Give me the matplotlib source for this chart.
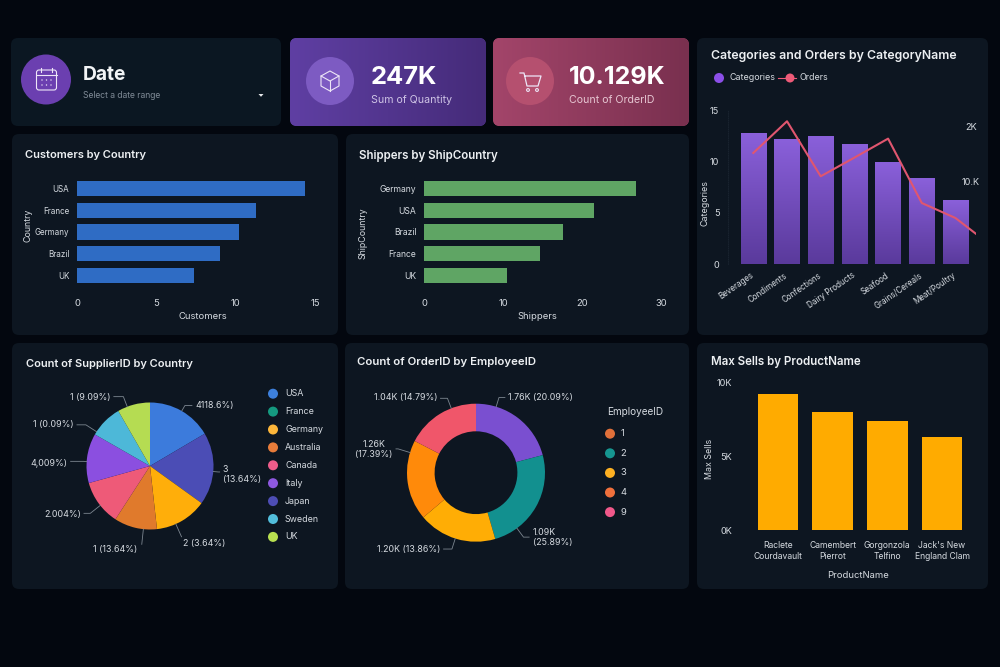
import numpy as np
import matplotlib
matplotlib.use('Agg')
import matplotlib.pyplot as plt
from matplotlib.patches import FancyBboxPatch, Circle, Polygon
from matplotlib.colors import LinearSegmentedColormap
from matplotlib.transforms import ScaledTranslation

W, H = 1000, 667

# data
cust_countries = ['USA', 'France', 'Germany', 'Brazil', 'UK']
cust_values = [14.4, 11.3, 10.2, 9.0, 7.4]
cust_ticks = [0, 5, 10, 15]

ship_countries = ['Germany', 'USA', 'Brazil', 'France', 'UK']
ship_values = [26.8, 21.5, 17.6, 14.7, 10.5]
ship_ticks = [0, 10, 20, 30]

cat_names = ['Beverages', 'Condiments', 'Confections', 'Dairy Products', 'Seafood', 'Grains/Cereals', 'Meat/Poultry']
cat_values = [12.7, 12.1, 12.4, 11.65, 9.9, 8.35, 6.2]
cat_ticks = [0, 5, 10, 15]
order_values = [1613, 2073, 1274, 1545, 1821, 886, 668, 290]
order_ticks = [1200, 2000]
order_tick_labels = ['10.K', '2K']

legend_countries = ['USA', 'France', 'Germany', 'Australia', 'Canada', 'Italy', 'Japan', 'Sweden', 'UK']
legend_colors = ['#3D80DC', '#159A80', '#FDB63A', '#E87C3A', '#EE5C8A', '#8E58E0', '#4D4DB5', '#52BEDC', '#B8E050']
supplier_values = [16.5, 18.4, 13.3, 10.9, 11.5, 12.6, 8.4, 8.3]
supplier_colors = ['#3C7BDC', '#4B4DB5', '#FFAE0A', '#E07A2C', '#EE5A78', '#8B4FE0', '#4DB8D8', '#B5DC52']
supplier_labels = ['4118.6%)', '3\n(13.64%)', '2 (3.64%)', '1 (13.64%)', '2.004%)', '4,009%)', '1 (0.09%)', '1 (9.09%)']
# text x, text y, align, leader angle (clockwise from top), leader elbow radius
supplier_label_pos = [(0.71, 0.95, 'left', 30, 1.1), (1.147, -0.13, 'left', 95, 1.08), (0.516, -1.22, 'left', 156, 1.22),
                      (-0.205, -1.32, 'right', 186, 1.24), (-1.09, -0.76, 'right', 231.6, 1.2),
                      (-1.3, 0.04, 'right', 274, 1.05), (-1.2, 0.65, 'right', 302.7, 1.2), (-0.62, 1.08, 'right', 339, 1.17)]

employee_ids = ['1', '2', '3', '4', '9']
employee_colors = ['#E0703A', '#169690', '#FDB022', '#F0703C', '#F0588A']
employee_values = [20.9, 24.6, 18.3, 18.8, 17.4]
donut_colors = ['#7A4FD0', '#12908F', '#FFAD05', '#FF8A0A', '#F0566A']
donut_labels = ['1.76K (20.09%)', '1.09K\n(25.89%)', '1.20K (13.86%)', '1.26K\n(17.39%)', '1.04K (14.79%)']
donut_label_pos = [(0.469, 1.09, 'left', 17, 1.14), (0.82, -0.94, 'left', 143.6, 1.16), (-0.52, -1.11, 'right', 197.5, 1.16),
                   (-1.21, 0.34, 'right', 287, 1.18), (-0.565, 1.09, 'right', 339, 1.155)]

product_names = ['Raclete\nCourdavault', 'Camembert\nPierrot', 'Gorgonzola\nTelfino', "Jack's New\nEngland Clam"]
product_values = [9190, 7970, 7360, 6320]
product_ticks = [0, 5000, 10000]
product_tick_labels = ['0K', '5K', '10K']

BG = '#03070F'
PANEL = '#0D1621'
TEXT = '#D5DAE0'
TITLE = '#EDF0F3'

plt.rcParams['font.family'] = ['Inter', 'DejaVu Sans']
plt.rcParams['font.size'] = 6.5

fig = plt.figure(figsize=(W / 100, H / 100), dpi=100, facecolor=BG)

# whole-figure layer in pixel coordinates for the cards
bg = fig.add_axes([0, 0, 1, 1])
bg.set_xlim(0, W)
bg.set_ylim(H, 0)
bg.axis('off')


def panel(x0, y0, x1, y1, color=PANEL, r=7):
    box = FancyBboxPatch((x0, y0), x1 - x0, y1 - y0, boxstyle=f'round,pad=0,rounding_size={r}',
                         fc=color, ec='none')
    bg.add_patch(box)
    return box


def gradient_card(x0, y0, x1, y1, c_left, c_right):
    box = panel(x0, y0, x1, y1, c_left)
    cmap = LinearSegmentedColormap.from_list('g', [c_left, c_right])
    im = bg.imshow(np.linspace(0, 1, 256).reshape(1, -1), extent=[x0, x1, y1, y0], aspect='auto', cmap=cmap, zorder=1.5)
    im.set_clip_path(box)
    bg.set_xlim(0, W)
    bg.set_ylim(H, 0)


def px_axes(x0, y0, x1, y1):
    ax = fig.add_axes([x0 / W, 1 - y1 / H, (x1 - x0) / W, (y1 - y0) / H])
    ax.set_facecolor('none')
    for s in ax.spines.values():
        s.set_visible(False)
    return ax


def set_labels(ax, rect, xlabel=None, xpos=None, ylabel=None, ypos=None):
    x0, y0, x1, y1 = rect
    if xlabel:
        ax.set_xlabel(xlabel, color=TEXT, fontsize=6.8, va='center')
        ax.xaxis.set_label_coords((xpos[0] - x0) / (x1 - x0), (y1 - xpos[1]) / (y1 - y0))
    if ylabel:
        ax.set_ylabel(ylabel, color=TEXT, fontsize=6.4, va='center')
        ax.yaxis.set_label_coords((ypos[0] - x0) / (x1 - x0), (y1 - ypos[1]) / (y1 - y0))


def title(x, y, s, size=8.3):
    bg.text(x, y, s, color=TITLE, fontsize=size, fontweight='semibold', va='center', ha='left', zorder=5)


def hbar_chart(rect, names, values, ticks, color, xlabel, xpos, ylabel, ypos, xmax, ysize=6.2):
    ax = px_axes(*rect)
    ax.barh(names, values, height=0.7, color=color)
    ax.set_xlim(0, xmax)
    ax.set_ylim(4.5, -0.5)
    ax.set_xticks(ticks)
    ax.tick_params(axis='x', length=0, pad=9, colors=TEXT, labelsize=6.8)
    ax.tick_params(axis='y', length=0, pad=5.5, colors=TEXT, labelsize=ysize)
    set_labels(ax, rect, xlabel, xpos, ylabel, ypos)
    return ax


def pie_with_leaders(center, R, values, colors, labels, label_pos, width=None):
    lim = 1.25
    cx, cy = center
    ax = px_axes(cx - R * lim, cy - R * lim, cx + R * lim, cy + R * lim)
    props = {'width': width} if width else {}
    ax.pie(values, colors=colors, startangle=90, counterclock=False, radius=1, wedgeprops=props)
    ax.set_xlim(-lim, lim)
    ax.set_ylim(-lim, lim)
    for lab, (tx, ty, ha, ang, elbow) in zip(labels, label_pos):
        a = np.deg2rad(ang)
        ex, ey = np.sin(a), np.cos(a)
        xs, ys = [ex, elbow * ex], [ey, elbow * ey]
        if ty > -1.2:
            # labels under the pie get no horizontal run
            gap = 0.05 if ha == 'left' else -0.05
            xs.append(tx - gap)
            ys.append(elbow * ey)
        ax.plot(xs, ys, color='#7C8690', lw=0.6, clip_on=False)
        ax.text(tx, ty, lab, color=TEXT, fontsize=6.4, ha=ha, va='center', multialignment='left' if ha == 'left' else 'center')
    return ax


# cards
panel(11, 38, 281, 126, '#0B1722')
gradient_card(290, 38, 486, 126, '#5F3FA3', '#452B79')
gradient_card(493, 38, 689, 126, '#A3456A', '#79304F')
panel(697, 38, 988, 335)
panel(12, 134, 338, 335)
panel(346, 134, 689, 335)
panel(12, 343, 338, 589)
panel(345, 343, 689, 589)
panel(697, 343, 988, 589)

# filter card and KPI cards
bg.add_patch(Circle((46, 79.5), 25, fc='#6B3FB0', ec='none', zorder=3))
bg.add_patch(Circle((330, 81), 24, fc='#7D5BC2', ec='none', zorder=3))
bg.add_patch(Circle((530, 81), 24, fc='#B5506F', ec='none', zorder=3))

# calendar icon
ICON = '#EDE6F7'
bg.add_patch(FancyBboxPatch((36.5, 70), 20, 20, boxstyle='round,pad=0,rounding_size=2.5', fc='none', ec=ICON, lw=0.8, zorder=4))
bg.plot([36.5, 56.5], [75, 75], color=ICON, lw=0.8, zorder=4)
for x in [41, 52]:
    bg.plot([x, x], [68, 72], color=ICON, lw=0.8, zorder=4)
for x in [42, 46.5, 51]:
    for y in [80, 85]:
        bg.add_patch(Circle((x, y), 0.7, fc=ICON, ec='none', zorder=4))
# box icon
bg.add_patch(Polygon([(330, 71), (339, 76), (339, 86), (330, 91), (321, 86), (321, 76)], closed=True, fc='none', ec=ICON, lw=0.8, zorder=4))
bg.plot([321, 330, 339], [76, 81, 76], color=ICON, lw=0.8, zorder=4)
bg.plot([330, 330], [81, 91], color=ICON, lw=0.8, zorder=4)
# cart icon
bg.plot([520, 524, 527, 538, 541, 525], [73, 73, 86, 86, 76, 76], color=ICON, lw=0.9, zorder=4)
bg.add_patch(Circle((528, 90), 1.4, fc='none', ec=ICON, lw=0.8, zorder=4))
bg.add_patch(Circle((537, 90), 1.4, fc='none', ec=ICON, lw=0.8, zorder=4))

bg.text(83, 75, 'Date', color='#F2F4F6', fontsize=13.8, fontweight='bold', va='center', zorder=5)
bg.text(83, 95, 'Select a date range', color='#7F8A96', fontsize=6.2, va='center', zorder=5)
bg.add_patch(Polygon([(258.5, 94), (263.5, 94), (261, 96.8)], closed=True, fc='#E6E8EB', ec='none', zorder=5))
bg.text(371, 77, '247K', color='white', fontsize=18.4, fontweight='bold', va='center', zorder=5)
bg.text(371, 100, 'Sum of Quantity', color='#CFC4E6', fontsize=7.6, va='center', zorder=5)
bg.text(569, 77, '10.129K', color='white', fontsize=18, fontweight='bold', va='center', zorder=5)
bg.text(569, 100, 'Count of OrderID', color='#E6C6D2', fontsize=7.6, va='center', zorder=5)

# customers / shippers
title(25, 155.5, 'Customers by Country', 8.0)
hbar_chart((77, 177.6, 315, 286.4), cust_countries, cust_values, cust_ticks, '#2F6CC4',
           'Customers', (202.7, 317), 'Country', (28, 225), 15, ysize=5.8)
title(359, 155.5, 'Shippers by ShipCountry')
hbar_chart((424, 177.6, 661, 286.4), ship_countries, ship_values, ship_ticks, '#5FA564',
           'Shippers', (537, 317), 'ShipCountry', (363, 233), 30)

# categories and orders
title(711, 56, 'Categories and Orders by CategoryName', 8.85)
bg.add_patch(Circle((719, 78), 5, fc='#8B4FE8', ec='none', zorder=4))
bg.text(729, 78, 'Categories', color=TEXT, fontsize=6.4, va='center', zorder=5)
bg.plot([778, 796], [78, 78], color='#EE5A78', lw=0.8, zorder=4)
bg.add_patch(Circle((790, 78), 4.5, fc='#EE5A78', ec='none', zorder=4))
bg.text(800, 78, 'Orders', color=TEXT, fontsize=6.4, va='center', zorder=5)

rect = (727.7, 110, 975.7, 264)
ax = px_axes(*rect)
x = np.arange(len(cat_names))
bars = ax.bar(x, cat_values, width=0.76, color='#6F49BE')
cmap = LinearSegmentedColormap.from_list('bar', ['#5A3A9C', '#8A60DA'])
for b in bars:
    ax.imshow(np.linspace(1, 0, 128).reshape(-1, 1), extent=[b.get_x(), b.get_x() + b.get_width(), 0, b.get_height()],
              aspect='auto', cmap=cmap, vmin=0, vmax=1, zorder=2)
    b.set_visible(False)
ax.set_xlim(-0.76, 6.6)
ax.set_ylim(0, 15)
ax.set_xticks(x, cat_names, rotation=35, ha='right', rotation_mode='anchor')
ax.set_yticks(cat_ticks)
ax.tick_params(axis='x', length=0, pad=5, colors=TEXT, labelsize=5.8)
ax.tick_params(axis='y', length=0, pad=6, colors=TEXT, labelsize=6.6)
for lab in ax.get_xticklabels():
    lab.set_transform(lab.get_transform() + ScaledTranslation(-3 / 100, 0, fig.dpi_scale_trans))
ax.spines['left'].set_visible(True)
ax.spines['left'].set_color('#1B2531')
ax.spines['left'].set_linestyle(':')
ax.spines['left'].set_linewidth(0.6)
set_labels(ax, rect, ylabel='Categories', ypos=(704.7, 202.7))
ax2 = ax.twinx()
ax2.set_facecolor('none')
for s in ax2.spines.values():
    s.set_visible(False)
ax2.plot(np.arange(len(order_values)), order_values, color='#E0566F', lw=1.5, zorder=5)
ax2.set_xlim(-0.76, 6.6)
ax2.set_ylim(0, 2000 * 154 / 137.7)
ax2.set_yticks(order_ticks, order_tick_labels, ha='center')
ax2.tick_params(axis='y', length=0, pad=-3.4, colors=TEXT, labelsize=6.6)

# pies
title(25.5, 364, 'Count of SupplierID by Country', 8.0)
pie_with_leaders((150, 466), 63.5, supplier_values, supplier_colors, supplier_labels, supplier_label_pos)
for i, (name, c) in enumerate(zip(legend_countries, legend_colors)):
    y = 393.7 + i * 17.9
    bg.add_patch(Circle((273, y), 5, fc=c, ec='none', zorder=4))
    bg.text(285, y, name, color=TEXT, fontsize=6.4, va='center', zorder=5)

title(357, 362, 'Count of OrderID by EmployeeID', 8.2)
pie_with_leaders((476, 472.7), 69, employee_values, donut_colors, donut_labels, donut_label_pos, width=0.4)
bg.text(606.7, 412, 'EmployeeID', color=TEXT, fontsize=7.2, va='center', zorder=5)
for i, (eid, c) in enumerate(zip(employee_ids, employee_colors)):
    y = 433.7 + i * 19.6
    bg.add_patch(Circle((610, y), 5, fc=c, ec='none', zorder=4))
    bg.text(620.7, y, eid, color=TEXT, fontsize=6.8, va='center', zorder=5)

# max sells
title(711, 362, 'Max Sells by ProductName')
rect = (740, 382.3, 965, 530)
ax = px_axes(*rect)
ax.bar(product_names, product_values, width=0.74, color='#FFAB00')
ax.set_xlim(-0.69, 3.42)
ax.set_ylim(0, 10000)
ax.set_yticks(product_ticks, product_tick_labels)
ax.tick_params(axis='x', length=0, pad=8, colors=TEXT, labelsize=6.2)
ax.tick_params(axis='y', length=0, pad=5.5, colors=TEXT, labelsize=6.6)
set_labels(ax, rect, 'ProductName', (858, 576), 'Max Sells', (709, 459))

fig.savefig('out.png', dpi=100, facecolor=BG)
